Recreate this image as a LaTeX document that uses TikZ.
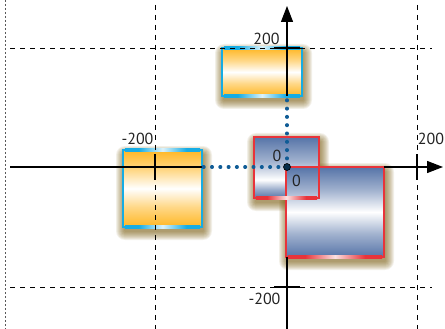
\documentclass[tikz,border=0pt]{standalone}
\usepackage{fontspec}
\setmainfont{PT Sans}
\usetikzlibrary{arrows.meta}
\definecolor{orng}{RGB}{255,183,36}
\definecolor{blu}{RGB}{86,116,168}
\definecolor{cyn}{RGB}{22,172,228}
\definecolor{rd}{RGB}{232,52,58}
\definecolor{glowc}{RGB}{120,90,10}
\definecolor{dotc}{RGB}{16,92,150}
\definecolor{txt}{RGB}{35,35,35}
\pgfdeclarehorizontalshading{redhl}{100bp}{color(0bp)=(rd); color(25bp)=(rd); color(34bp)=(rd); color(50bp)=(rd!15!white); color(66bp)=(rd); color(75bp)=(rd); color(100bp)=(rd)}
\pgfdeclarehorizontalshading{cynhl}{100bp}{color(0bp)=(cyn); color(25bp)=(cyn); color(34bp)=(cyn); color(50bp)=(cyn!15!white); color(66bp)=(cyn); color(75bp)=(cyn); color(100bp)=(cyn)}
\pgfdeclareverticalshading{orngfill}{100bp}{color(0bp)=(orng); color(25bp)=(orng); color(38bp)=(orng!55!white); color(50bp)=(white); color(62bp)=(orng!55!white); color(75bp)=(orng); color(100bp)=(orng)}
\pgfdeclareverticalshading{blufill}{100bp}{color(0bp)=(blu); color(25bp)=(blu); color(38bp)=(blu!55!white); color(50bp)=(white); color(62bp)=(blu!55!white); color(75bp)=(blu); color(100bp)=(blu)}
\pgfdeclareverticalshading{smallblue}{100bp}{color(0bp)=(blu); color(25bp)=(blu); color(32bp)=(blu!60!white); color(40bp)=(white); color(55bp)=(blu!55!white); color(75bp)=(blu); color(100bp)=(blu)}
\newcommand\glowbox[4]{%
  \foreach \i in {1,...,9}{%
    \fill[glowc,opacity=0.09,rounded corners=\i pt] ({#1-\i+2},{#2-\i+5}) rectangle ({#3+\i+1},{#4+\i+4});
  }}
\newcommand\edgebox[6]{% x1 y1 x2 y2 color shading
  \draw[#5,line width=2.5pt] (#1,#2) rectangle (#3,#4);
  \shade[shading=#6] ({#1+2},{#4-1.25}) rectangle ({#3-2},{#4+1.25});
}
\tikzset{
  gridline/.style={black,line width=0.9pt,dash pattern=on 5pt off 5pt},
  edgeline/.style={black!65,line width=1pt,dash pattern=on 2pt off 2pt},
  axisline/.style={black,line width=1.3pt},
  axisarrow/.style={axisline,-{Triangle[length=16pt,width=12pt]}},
  tickline/.style={black,line width=1.3pt},
  dotline/.style={dotc,line width=3.4pt,line cap=round,dash pattern=on 0.6pt off 7.7pt},
  lbl/.style={text=txt,inner sep=0pt,font=\fontsize{16}{16}\selectfont}
}
\begin{document}
\begin{tikzpicture}[x=1pt,y=-1pt]
\useasboundingbox (0,0) rectangle (445,329);
\fill[white] (0,0) rectangle (445,329);
\coordinate (O) at (287,167);
% glows
\glowbox{222}{48}{302}{96}
\glowbox{123}{150}{202}{227}
\glowbox{254}{137}{319}{198}
\glowbox{286}{167}{384}{257}
% fills
\shade[shading=orngfill] (222,48) rectangle (302,96);
\shade[shading=orngfill] (123,150) rectangle (202,227);
\shade[shading=smallblue] (254,137) rectangle (319,198);
\shade[shading=blufill] (286,167) rectangle (384,257);
% borders
\edgebox{286}{167}{384}{257}{rd}{redhl}
\edgebox{254}{137}{319}{198}{rd}{redhl}
\edgebox{222}{48}{302}{96}{cyn}{cynhl}
\shade[shading=cynhl] (224,46.75) rectangle (300,49.25);
\edgebox{123}{150}{202}{227}{cyn}{cynhl}
\shade[shading=cynhl] (125,148.75) rectangle (200,151.25);
% grid
\draw[edgeline] (5,0) -- (5,329);
\draw[gridline] (155,5) -- (155,329);
\draw[gridline] (417,5) -- (417,329);
\draw[gridline] (10,48) -- (432,48);
\draw[gridline] (10,287) -- (432,287);
% axes
\draw[axisline] (10,167) -- (202,167);
\draw[axisarrow] (384,167) -- (443,167);
\draw[axisline] (287,257) -- (287,329);
\draw[axisarrow] (287,96) -- (287,6);
% ticks
\draw[tickline] (155,154) -- (155,180);
\draw[tickline] (417,154) -- (417,180);
\draw[tickline] (274,48) -- (300,48);
\draw[tickline] (274,287) -- (300,287);
% dotted guides
\coordinate (L) at (202,167);
\coordinate (T) at (287,96);
\draw[dotline] (O) -- (L);
\draw[dotline] (O) -- (T);
\fill[dotc!50!black,draw=black,line width=0.6pt] (O) circle (3.5);
% labels
\node[lbl] (ly1) at (266.5,39) {200};
\node[lbl] (lx1) at (137.5,139) {-200};
\node[lbl] (lx2) at (431,139) {200};
\node[lbl] (ly2) at (264.5,299) {-200};
\node[lbl] (o1) at (277,155.5) {0};
\node[lbl] (o2) at (296.5,181) {0};
\end{tikzpicture}
\end{document}
